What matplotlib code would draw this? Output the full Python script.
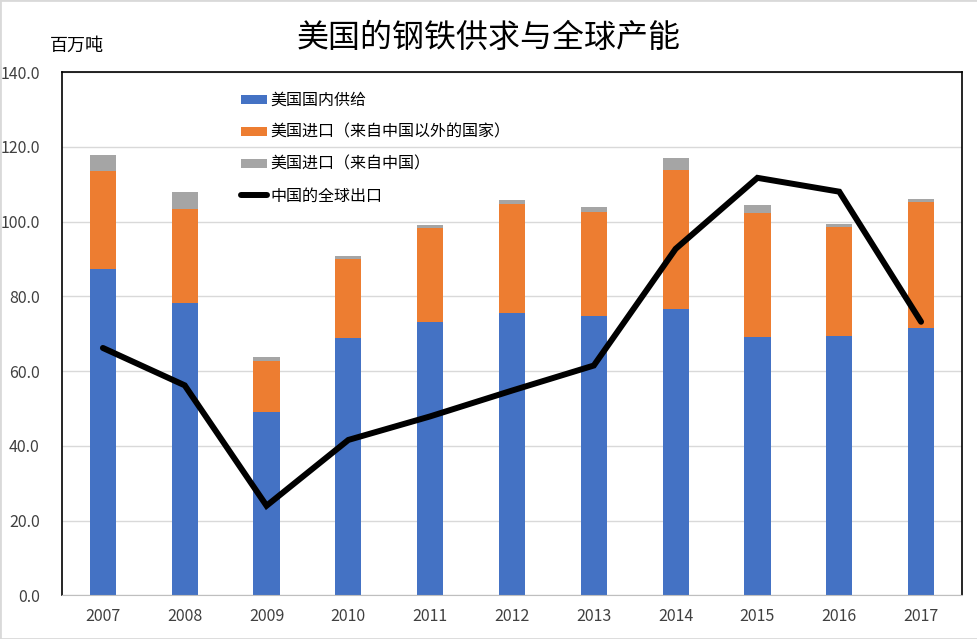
import matplotlib.pyplot as plt
import numpy as np
from matplotlib.patches import Rectangle

plt.rcParams['font.family'] = ['Noto Sans CJK SC', 'DejaVu Sans']

years = ["2007", "2008", "2009", "2010", "2011", "2012", "2013", "2014", "2015", "2016", "2017"]
# 百万吨
domestic = [87.4, 78.3, 49.1, 68.9, 73.2, 75.5, 74.8, 76.7, 69.1, 69.3, 71.5]
imp_other = [26.2, 25.0, 13.5, 21.2, 25.0, 29.1, 27.7, 37.2, 33.1, 29.3, 33.7]
imp_china = [4.3, 4.5, 1.3, 0.7, 1.0, 1.3, 1.5, 3.0, 2.2, 0.7, 0.8]
china_export = [66.2, 56.2, 24.0, 41.6, 47.9, 54.8, 61.5, 92.7, 111.7, 108.0, 73.2]

labels = ["美国国内供给", "美国进口（来自中国以外的国家）", "美国进口（来自中国）", "中国的全球出口"]
colors = ["#4472C4", "#ED7D31", "#A5A5A5"]

fig = plt.figure(figsize=(9.78, 6.39), dpi=100)
ax = fig.add_axes([0.0634, 0.0681, 0.9202, 0.8192])

x = np.arange(len(years))
w = 0.32
d = np.array(domestic)
o = np.array(imp_other)
c = np.array(imp_china)
b1 = ax.bar(x, d, w, color=colors[0], label=labels[0], zorder=2)
b2 = ax.bar(x, o, w, bottom=d, color=colors[1], label=labels[1], zorder=2)
b3 = ax.bar(x, c, w, bottom=d + o, color=colors[2], label=labels[2], zorder=2)
ln, = ax.plot(x, china_export, color="black", lw=4.3, solid_capstyle="round",
              solid_joinstyle="miter", label=labels[3], zorder=3)

ax.set_xlim(-0.5, len(years) - 0.5)
ax.set_ylim(0, 140)
ax.set_yticks(np.arange(0, 141, 20))
ax.set_yticklabels([f"{v:.1f}" for v in np.arange(0, 141, 20)])
ax.set_xticks(x)
ax.set_xticklabels(years)
ax.tick_params(axis="both", length=0, labelsize=11.5, colors="#404040", pad=9)
ax.tick_params(axis="y", pad=16)
ax.grid(axis="y", color="#D9D9D9", lw=1, zorder=0)
for s in ["left", "top", "right"]:
    ax.spines[s].set_color("black")
    ax.spines[s].set_linewidth(1.2)
ax.spines["bottom"].set_color("#BFBFBF")

ax.legend([b1, b2, b3, ln], labels, loc="upper left", bbox_to_anchor=(0.192, 0.974),
          frameon=False, fontsize=11.5, handlelength=1.6, handleheight=0.5,
          labelspacing=0.93, handletextpad=0.25, borderaxespad=0)

fig.text(0.5, 0.94, "美国的钢铁供求与全球产能", ha="center", va="center", fontsize=23)
fig.text(0.051, 0.928, "百万吨", ha="left", va="center", fontsize=13)

fig.patches.append(Rectangle((0, 0), 1, 1, transform=fig.transFigure, fill=False,
                             edgecolor="#D9D9D9", lw=2))

fig.savefig("out.png", dpi=100)
